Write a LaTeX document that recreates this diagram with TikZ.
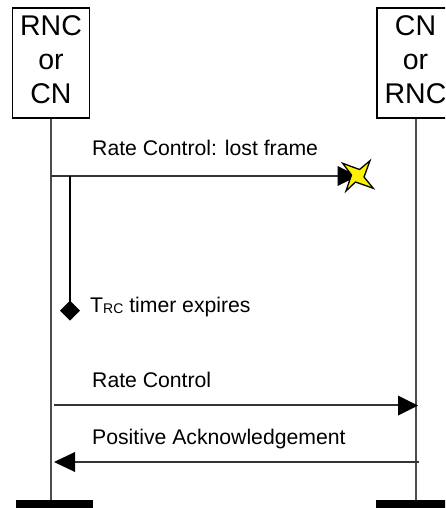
\documentclass[tikz,border=0pt]{standalone}
\usepackage{fontspec}
\setmainfont{Liberation Sans}
\begin{document}
\begin{tikzpicture}[x=1pt,y=-1pt,
  entity/.style={draw=black,line width=1.3pt,inner sep=0pt,fill=white},
  life/.style={draw=black!70,line width=1.3pt},
  msg/.style={draw=black!80,line width=1.3pt},
  head/.style={fill=black,draw=none},
  lbl/.style={anchor=base west,inner sep=0pt,font=\fontsize{21.2}{21.2}\selectfont},
  big/.style={anchor=base,inner sep=0pt,font=\fontsize{28.5}{28.5}\selectfont}]
\useasboundingbox (0,0) rectangle (445,508);
\clip (0,0) rectangle (445,508);
% coordinates
\coordinate (ltop) at (51,118);
\coordinate (lbot) at (51,500);
\coordinate (rtop) at (416,118);
\coordinate (rbot) at (416,500);
\coordinate (m1a) at (51,176);
\coordinate (m1b) at (340,176);
\coordinate (t0) at (70,176);
\coordinate (t1) at (70,302);
\coordinate (m2a) at (54,405);
\coordinate (m2b) at (400,405);
\coordinate (m3a) at (419,462);
\coordinate (m3b) at (74,462);
% lifelines
\draw[life] (ltop) -- (lbot);
\draw[life] (rtop) -- (rbot);
% boxes
\draw[entity] (12.5,8) rectangle (89.5,118);
\draw[entity] (377,8) rectangle (460,118);
\node[big] (a1) at (51,36) {RNC};
\node[big] (a2) at (51,70) {or};
\node[big] (a3) at (51,103) {CN};
\node[big] (b1) at (415.5,36) {CN};
\node[big] (b2) at (415.5,70) {or};
\node[big] (b3) at (415.5,103) {RNC};
% end bars
\fill[black] (16,500) rectangle (93,508);
\fill[black] (376,500) rectangle (460,508);
% message 1
\draw[msg] (m1a) -- (m1b);
\fill[head] (337.5,166) -- (358,176) -- (337.5,186) -- cycle;
\draw[black,line width=1.3pt,fill=yellow,miter limit=10]
  (342.7,163.3) -- (359.5,169.5) -- (370,160.7) -- (364,177) -- (373.3,188.3)
  -- (355.5,182) -- (346,191) -- (351.5,175) -- cycle;
\node[lbl] (l1) at (92,155) {Rate Control: lost frame};
% timer
\draw[black,line width=1.3pt] (t0) -- (t1);
\fill[head] (70,300.7) -- (80,310.7) -- (70,320.7) -- (60,310.7) -- cycle;
\node[lbl] (l2) at (90,312) {T{\fontsize{14}{14}\selectfont\raisebox{-1pt}{RC}} timer expires};
% message 2
\draw[msg] (m2a) -- (m2b);
\fill[head] (398,395.5) -- (418,405.5) -- (398,415.5) -- cycle;
\node[lbl] (l3) at (92,387) {Rate Control};
% message 3
\draw[msg] (m3a) -- (m3b);
\fill[head] (75,452) -- (54,462) -- (75,472) -- cycle;
\node[lbl] (l4) at (92,444) {Positive Acknowledgement};
\end{tikzpicture}
\end{document}
